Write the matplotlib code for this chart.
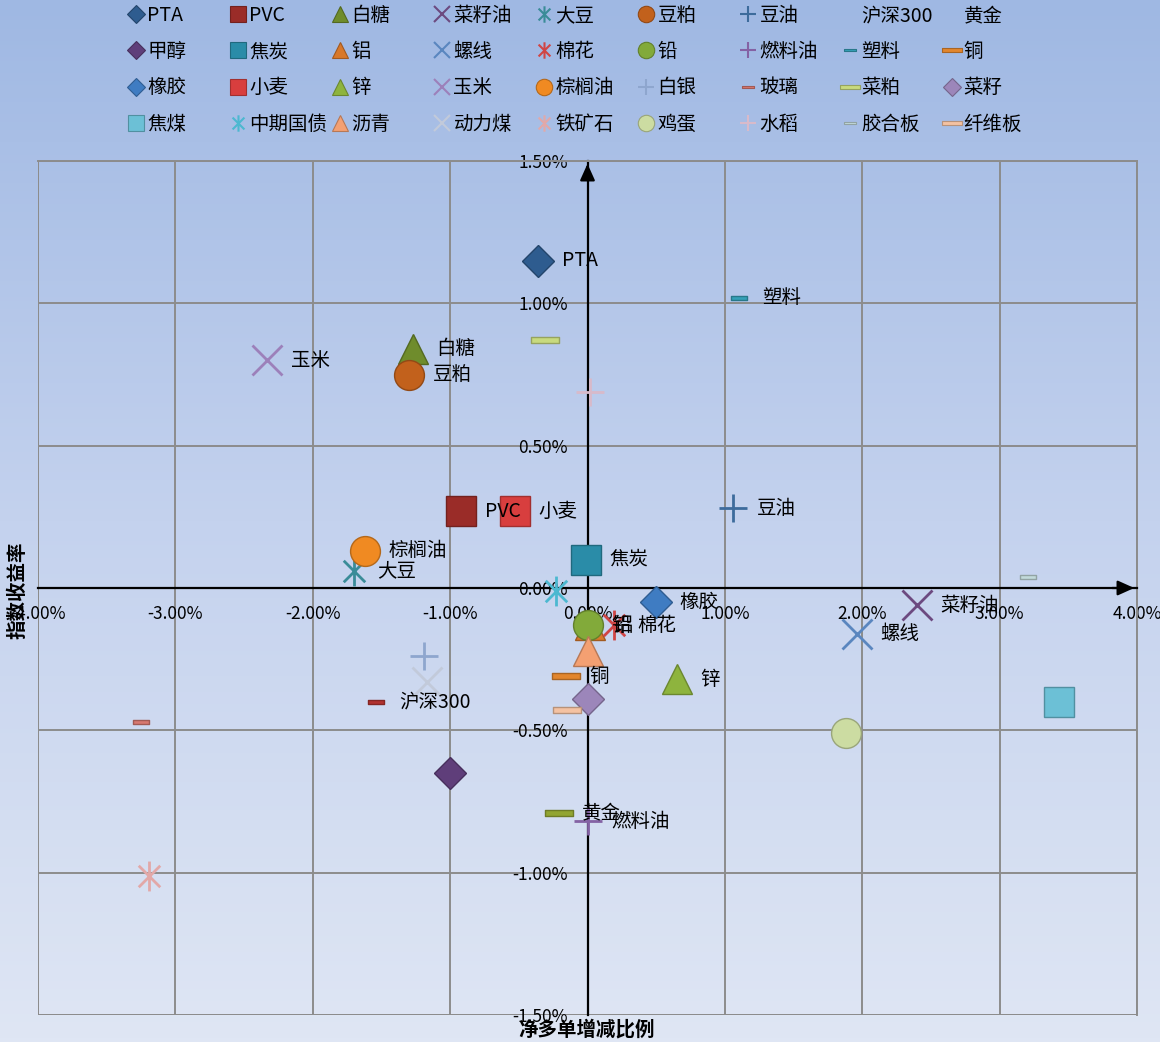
import numpy as np
import matplotlib
matplotlib.use("Agg")
import matplotlib.pyplot as plt
from matplotlib.path import Path
from matplotlib.lines import Line2D
from matplotlib.colors import LinearSegmentedColormap
from matplotlib.ticker import MultipleLocator, FuncFormatter

plt.rcParams["font.family"] = ["Noto Sans CJK SC", "DejaVu Sans"]

# 品种（图例顺序）
names = [
    "PTA", "PVC", "白糖", "菜籽油", "大豆", "豆粕", "豆油", "沪深300", "黄金",
    "甲醇", "焦炭", "铝", "螺线", "棉花", "铅", "燃料油", "塑料", "铜",
    "橡胶", "小麦", "锌", "玉米", "棕榈油", "白银", "玻璃", "菜粕", "菜籽",
    "焦煤", "中期国债", "沥青", "动力煤", "铁矿石", "鸡蛋", "水稻", "胶合板", "纤维板",
]
# 净多单增减比例 (%)
net_long_change = [
    -0.36, -0.92, -1.27, 2.40, -1.70, -1.30, 1.06, -1.54, -0.21,
    -1.00, -0.01, 0.02, 1.96, 0.19, 0.00, 0.00, 1.10, -0.16,
    0.50, -0.53, 0.65, -2.33, -1.62, -1.19, -3.25, -0.31, 0.00,
    3.43, -0.23, 0.00, -1.17, -3.19, 1.88, 0.02, 3.21, -0.15,
]
# 指数收益率 (%)
index_return = [
    1.15, 0.27, 0.84, -0.06, 0.06, 0.75, 0.28, -0.40, -0.79,
    -0.65, 0.10, -0.13, -0.16, -0.13, -0.13, -0.82, 1.02, -0.31,
    -0.05, 0.27, -0.32, 0.80, 0.13, -0.24, -0.47, 0.87, -0.39,
    -0.40, -0.01, -0.22, -0.33, -1.01, -0.51, 0.69, 0.04, -0.43,
]
labeled = {"PTA", "PVC", "白糖", "菜籽油", "大豆", "豆粕", "豆油", "沪深300", "黄金",
           "焦炭", "铝", "螺线", "棉花", "铅", "燃料油", "塑料", "铜",
           "橡胶", "小麦", "锌", "玉米", "棕榈油"}

kinds = [
    "D", "s", "^", "x", "*", "o", "+", "b", "B",
    "D", "s", "^", "x", "*", "o", "+", "b", "B",
    "D", "s", "^", "x", "o", "+", "b", "B", "D",
    "s", "*", "^", "x", "*", "o", "+", "b", "B",
]
colors = [
    "#2E5C8F", "#9A2C28", "#6F8C2C", "#6C4A80", "#3A8C98", "#C2611C", "#3D6B9C", "#B23230", "#92A532",
    "#5F3E7A", "#2A8CA8", "#D8782A", "#5A86BF", "#D04545", "#82AA3A", "#8462A4", "#35A0B8", "#E2862E",
    "#3F7CC2", "#D83E3E", "#8EB43E", "#9C80BA", "#F08A22", "#8EA6CE", "#D87870", "#C8DA7E", "#9C86BA",
    "#6CC0D6", "#4CB8D0", "#F4A072", "#C2CADA", "#E2A8A8", "#CCDCA2", "#D8BACA", "#C2DADA", "#F4C2A2",
]

bar_path = Path([(-1, -0.22), (1, -0.22), (1, 0.22), (-1, 0.22), (-1, -0.22)],
                [Path.MOVETO, Path.LINETO, Path.LINETO, Path.LINETO, Path.CLOSEPOLY])
ast_path = Path([(0, -1), (0, 1), (-0.72, -0.72), (0.72, 0.72), (-0.72, 0.72), (0.72, -0.72)],
                [Path.MOVETO, Path.LINETO, Path.MOVETO, Path.LINETO, Path.MOVETO, Path.LINETO])

# marker, size(pt), filled
styles = {
    "D": ("D", 16, True), "s": ("s", 22, True), "^": ("^", 22, True), "o": ("o", 21.5, True),
    "x": ("x", 21.5, False), "+": ("+", 20, False), "*": (ast_path, 21.5, False),
    "B": (bar_path, 20, True), "b": (bar_path, 11.5, True),
}


def darker(c, f=0.75):
    rgb = np.array(matplotlib.colors.to_rgb(c))
    return tuple(rgb * f)


fig = plt.figure(figsize=(11.6, 10.42), dpi=100)
bg = fig.add_axes([0, 0, 1, 1], zorder=-10)
grad = np.linspace(0, 1, 256).reshape(-1, 1)
cmap = LinearSegmentedColormap.from_list("bg", ["#DFE6F4", "#C4D2EE", "#9FB8E3"])
bg.imshow(grad, aspect="auto", cmap=cmap, origin="lower", extent=[0, 1, 0, 1])
bg.axis("off")

ax = fig.add_axes([38 / 1160, 1 - 1015 / 1042, (1137 - 38) / 1160, (1015 - 161) / 1042])
ax.set_facecolor("none")
ax.set_xlim(-4, 4)
ax.set_ylim(-1.5, 1.5)
ax.xaxis.set_major_locator(MultipleLocator(1))
ax.yaxis.set_major_locator(MultipleLocator(0.5))
fmt = FuncFormatter(lambda v, p: f"{v:.2f}%")
ax.xaxis.set_major_formatter(fmt)
ax.yaxis.set_major_formatter(fmt)
ax.grid(True, color="#8C8C8C", linewidth=1.4)
ax.set_axisbelow(True)
for side in ("top", "right"):
    ax.spines[side].set_color("#8C8C8C")
    ax.spines[side].set_linewidth(1.4)
ax.spines["left"].set_position("zero")
ax.spines["bottom"].set_position("zero")
ax.spines["left"].set_linewidth(1.6)
ax.spines["bottom"].set_linewidth(1.6)
ax.tick_params(axis="both", length=0, labelsize=12.5)
ax.tick_params(axis="x", pad=12)
ax.tick_params(axis="y", pad=14)
# 边框左/下
ax.axvline(-4, color="#8C8C8C", linewidth=1.4, zorder=0.5)
ax.axhline(-1.5, color="#8C8C8C", linewidth=1.4, zorder=0.5)

ax.annotate("", xy=(1, 0), xytext=(0.975, 0), xycoords=ax.get_yaxis_transform(),
            arrowprops=dict(arrowstyle="-|>,head_length=1.0,head_width=0.45", color="black", lw=1.6),
            annotation_clip=False)
ax.annotate("", xy=(0, 1), xytext=(0, 0.975), xycoords=ax.get_xaxis_transform(),
            arrowprops=dict(arrowstyle="-|>,head_length=1.0,head_width=0.45", color="black", lw=1.6),
            annotation_clip=False)

legend_handles = []
for i, name in enumerate(names):
    mk, ms, filled = styles[kinds[i]]
    c = colors[i]
    if filled:
        ax.plot(net_long_change[i], index_return[i], linestyle="none", marker=mk, ms=ms,
                mfc=c, mec=darker(c), mew=1.0, zorder=3 + i * 0.01)
    else:
        ax.plot(net_long_change[i], index_return[i], linestyle="none", marker=mk, ms=ms,
                mfc="none", mec=c, mew=2.0, zorder=3 + i * 0.01)
    if name in labeled:
        ax.annotate(name, (net_long_change[i], index_return[i]), xytext=(17, 0),
                    textcoords="offset points", ha="left", va="center", fontsize=14, zorder=5)
    scale = 0.7 if kinds[i] in ("b", "B") else 0.55
    if name in ("沪深300", "黄金"):
        h = Line2D([], [], linestyle="none", marker="none")
    elif filled:
        h = Line2D([], [], linestyle="none", marker=mk, ms=ms * scale, mfc=c, mec=darker(c), mew=0.8)
    else:
        h = Line2D([], [], linestyle="none", marker=mk, ms=ms * scale, mfc="none", mec=c, mew=1.5)
    legend_handles.append(h)

ncols = 9
for col in range(ncols):
    idx = [r * ncols + col for r in range(4)]
    fig.legend([legend_handles[k] for k in idx], [names[k] for k in idx],
               loc="upper left", bbox_to_anchor=((128 + col * 102) / 1160, 1 - 5 / 1042),
               frameon=False, fontsize=14, handlelength=0.8, handletextpad=0.2,
               labelspacing=0.78, borderpad=0, borderaxespad=0)

fig.text(587 / 1160, 1 - 1030 / 1042, "净多单增减比例", ha="center", va="center",
         fontsize=14, fontweight="bold")
fig.text(18 / 1160, 1 - 590 / 1042, "指数收益率", ha="center", va="center",
         rotation=90, fontsize=14, fontweight="bold")

fig.savefig("out.png", dpi=100)
